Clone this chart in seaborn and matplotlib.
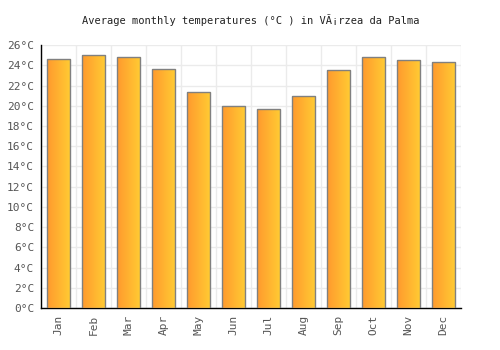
import matplotlib
matplotlib.use("Agg")
import matplotlib.pyplot as plt
import seaborn as sns
import numpy as np
import pandas as pd
from matplotlib.colors import LinearSegmentedColormap

months = ["Jan", "Feb", "Mar", "Apr", "May", "Jun", "Jul", "Aug", "Sep", "Oct", "Nov", "Dec"]
temps = [24.6, 25.0, 24.8, 23.6, 21.4, 20.0, 19.7, 21.0, 23.5, 24.8, 24.5, 24.3]
yticks = list(range(0, 27, 2))
ytick_labels = [f"{t}°C" for t in yticks]
title = "Average monthly temperatures (°C ) in VÃ¡rzea da Palma"

sns.set_style("white")
plt.rcParams['font.family'] = ['DejaVu Sans Mono', 'DejaVu Sans']

df = pd.DataFrame({"month": months, "temp": temps})
fig = plt.figure(figsize=(5, 3.5), dpi=100)
ax = fig.add_axes([0.082, 0.12, 0.84, 0.751])
sns.barplot(data=df, x="month", y="temp", ax=ax, width=0.68, color="#FFB030",
            edgecolor="#808080", linewidth=1.0, zorder=3)

cmap = LinearSegmentedColormap.from_list("g", ["#FF9A2E", "#FFCC33"])
grad = np.linspace(0, 1, 64).reshape(1, -1)
for p in ax.patches:
    x0, y0 = p.get_x(), p.get_y()
    w, h = p.get_width(), p.get_height()
    im = ax.imshow(grad, cmap=cmap, extent=[x0, x0 + w, y0, y0 + h], aspect="auto", zorder=3.5)
    im.set_clip_path(p)
    p.set_facecolor("none")
    p.set_zorder(4)

ax.set_xlim(-0.5, 11.5)
ax.set_ylim(0, 26)
ax.set_yticks(yticks)
ax.set_yticklabels(ytick_labels)
ax.set_xticks(range(12))
ax.set_xticklabels(months, rotation=90)
ax.set_xticks(np.arange(-0.5, 12, 1), minor=True)
ax.grid(True, axis="y", color="#EBEBEB", linewidth=1, zorder=0)
ax.grid(True, axis="x", which="minor", color="#EBEBEB", linewidth=1, zorder=0)
ax.tick_params(axis="both", which="both", length=0, labelsize=8, colors="#555555", pad=5)
ax.tick_params(axis="x", which="minor", length=0)
ax.set_xlabel("")
ax.set_ylabel("")
for s in ["top", "right"]:
    ax.spines[s].set_visible(False)
for s in ["left", "bottom"]:
    ax.spines[s].set_color("black")
    ax.spines[s].set_linewidth(1)
ax.set_title(title, fontsize=7.5, color="#222222", pad=15)

fig.savefig("out.png", dpi=100)
